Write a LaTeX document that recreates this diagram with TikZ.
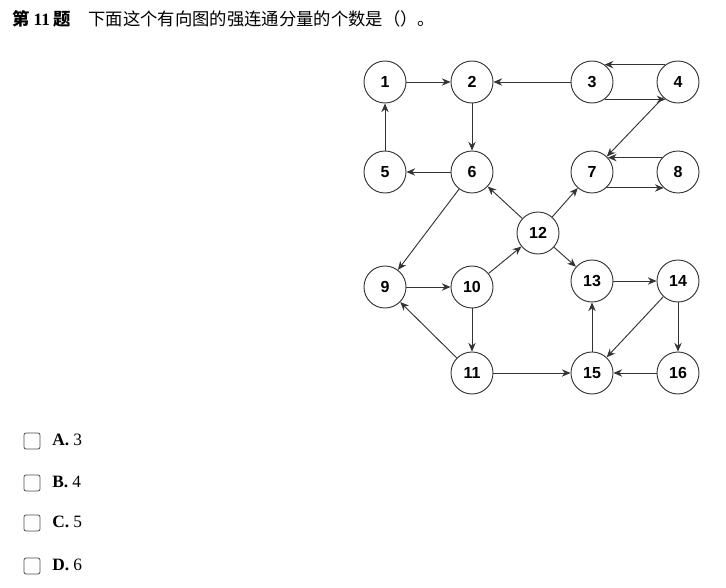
\documentclass[tikz,border=0pt]{standalone}
\usepackage{fontspec}
\setmainfont{Liberation Serif}
\newfontfamily\cjk{Noto Sans CJK SC}
\newfontfamily\nodefont{Liberation Sans}
\usetikzlibrary{arrows.meta}
\begin{document}
\begin{tikzpicture}[x=0.75pt,y=-0.75pt,
  vtx/.style={circle,draw=black!80,line width=0.7pt,minimum size=31.5pt,inner sep=0pt,font=\nodefont\bfseries\fontsize{12}{14}\selectfont},
  arc/.style={-{Stealth[length=6.5pt,width=5.5pt]},line width=0.7pt,draw=black!80},
  box/.style={draw=black!70,rounded corners=1.5pt,minimum size=12pt,inner sep=0pt,line width=0.6pt},
  opt/.style={anchor=west,font=\fontsize{13}{15}\selectfont,inner sep=0pt},
  ttl/.style={anchor=west,inner sep=0pt,font=\fontsize{13}{15}\selectfont}]
\useasboundingbox (0,0) rectangle (726,588);
\node[ttl] (t) at (12,19) {\cjk\bfseries 第 {\rmfamily\bfseries 11} 题\quad\mdseries 下面这个有向图的强连通分量的个数是（）。};
\node[vtx] (1) at (385,82) {1};
\node[vtx] (2) at (472,82) {2};
\node[vtx] (3) at (592,82) {3};
\node[vtx] (4) at (678,82) {4};
\node[vtx] (5) at (385,172) {5};
\node[vtx] (6) at (472,172) {6};
\node[vtx] (7) at (592,172) {7};
\node[vtx] (8) at (678,172) {8};
\node[vtx] (12) at (538,233) {12};
\node[vtx] (9) at (385,287) {9};
\node[vtx] (10) at (472,287) {10};
\node[vtx] (13) at (592,281) {13};
\node[vtx] (14) at (678,281) {14};
\node[vtx] (11) at (472,373) {11};
\node[vtx] (15) at (592,373) {15};
\node[vtx] (16) at (678,373) {16};
\draw[arc] (1) -- (2);
\draw[arc] (3) -- (2);
\draw[arc] (4.126) -- (3.54);
\draw[arc] (3.-54) -- (4.-126);
\draw[arc] (2) -- (6);
\draw[arc] (5) -- (1);
\draw[arc] (6) -- (5);
\draw[arc] (4) -- (7);
\draw[arc] (8.138) -- (7.42);
\draw[arc] (7.-48) -- (8.-132);
\draw[arc] (12) -- (6);
\draw[arc] (12) -- (7);
\draw[arc] (6) -- (9);
\draw[arc] (9) -- (10);
\draw[arc] (10) -- (12);
\draw[arc] (12) -- (13);
\draw[arc] (13) -- (14);
\draw[arc] (10) -- (11);
\draw[arc] (11) -- (9);
\draw[arc] (11) -- (15);
\draw[arc] (15) -- (13);
\draw[arc] (14) -- (15);
\draw[arc] (14) -- (16);
\draw[arc] (16) -- (15);
\node[box] (ba) at (32,441) {};
\node[box] (bb) at (32,483) {};
\node[box] (bc) at (32,523) {};
\node[box] (bd) at (32,566) {};
\node[opt] (oa) at (52,440) {\textbf{A.} 3};
\node[opt] (ob) at (52,482) {\textbf{B.} 4};
\node[opt] (oc) at (52,522) {\textbf{C.} 5};
\node[opt] (od) at (52,565) {\textbf{D.} 6};
\end{tikzpicture}
\end{document}
